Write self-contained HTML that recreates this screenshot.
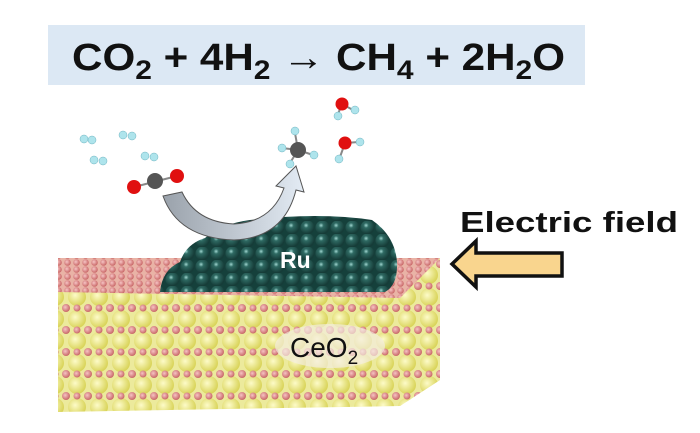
<!DOCTYPE html>
<html><head><meta charset="utf-8"><style>
html,body{margin:0;padding:0;background:#fff;width:700px;height:433px;overflow:hidden}
</style></head><body>
<svg width="700" height="433" xmlns="http://www.w3.org/2000/svg" font-family="Liberation Sans, sans-serif">
<defs>
<radialGradient id="ce" cx="0.4" cy="0.4" r="0.6"><stop offset="0" stop-color="#fdfbc8"/><stop offset="1" stop-color="#d9d45a"/></radialGradient>
<radialGradient id="ox" cx="0.4" cy="0.4" r="0.6"><stop offset="0" stop-color="#f6c4c4"/><stop offset="1" stop-color="#c96868"/></radialGradient>
<radialGradient id="ru" cx="0.4" cy="0.35" r="0.6"><stop offset="0" stop-color="#9fd6d0"/><stop offset="0.3" stop-color="#2f6a63"/><stop offset="1" stop-color="#163c38"/></radialGradient>
<pattern id="front" width="22" height="22" patternUnits="userSpaceOnUse">
<rect width="22" height="22" fill="#ecea9c"/>
<circle cx="11" cy="11" r="9" fill="url(#ce)"/>
<circle cx="0" cy="0" r="4" fill="url(#ox)"/><circle cx="22" cy="0" r="4" fill="url(#ox)"/>
<circle cx="0" cy="22" r="4" fill="url(#ox)"/><circle cx="22" cy="22" r="4" fill="url(#ox)"/>
<circle cx="11" cy="0" r="3.5" fill="url(#ox)"/><circle cx="11" cy="22" r="3.5" fill="url(#ox)"/>
</pattern>
<pattern id="top" width="9" height="7" patternUnits="userSpaceOnUse">
<rect width="9" height="7" fill="#e9b3a6"/>
<circle cx="4.5" cy="3.5" r="3.3" fill="url(#ox)"/>
</pattern>
<pattern id="rus" width="15" height="13" patternUnits="userSpaceOnUse">
<rect width="15" height="13" fill="#15403b"/>
<circle cx="7.5" cy="6.5" r="7" fill="url(#ru)"/>
</pattern>
<linearGradient id="arr" x1="0" y1="0" x2="1" y2="0"><stop offset="0" stop-color="#9aa2ab"/><stop offset="1" stop-color="#e3ebf4"/></linearGradient>
</defs>
<rect x="48" y="25" width="537" height="60" fill="#dce8f4"/>
<text x="72" y="70" font-size="38" font-weight="bold" fill="#111" textLength="493" lengthAdjust="spacingAndGlyphs">CO<tspan font-size="27" dy="9">2</tspan><tspan dy="-9"> + 4H</tspan><tspan font-size="27" dy="9">2</tspan><tspan dy="-9" font-weight="normal"> → </tspan><tspan>CH</tspan><tspan font-size="27" dy="9">4</tspan><tspan dy="-9"> + 2H</tspan><tspan font-size="27" dy="9">2</tspan><tspan dy="-9">O</tspan></text>
<polygon points="58,258 440,258 440,380 400,406 58,412" fill="url(#front)"/>
<polygon points="400,294 440,262 440,380 400,406" fill="url(#front)" opacity="0.85"/>
<polygon points="58,258 440,258 400,298 58,292" fill="url(#top)"/>
<ellipse cx="330" cy="346" rx="55" ry="22" fill="#f4ece0" opacity="0.7"/>
<text x="290" y="357" font-size="28" fill="#111">CeO<tspan font-size="19" dy="7">2</tspan></text>
<path d="M160,292 Q162,270 180,262 Q186,244 205,238 Q220,224 250,220 Q320,212 372,220 Q395,236 397,262 Q398,285 385,292 Z" fill="url(#rus)"/>
<text x="280" y="268" font-size="23" font-weight="bold" fill="#fff">Ru</text>
<path d="M163,196 L182,192 Q196,222 234,224 Q272,222 284,188 L276,186 L296,166 L304,192 L296,190 Q284,238 234,240 Q178,238 163,196 Z" fill="url(#arr)" stroke="#555" stroke-width="1"/>
<g stroke="#888" stroke-width="2"><line x1="134" y1="187" x2="177" y2="176"/><line x1="298" y1="150" x2="282" y2="148"/><line x1="298" y1="150" x2="295" y2="133"/><line x1="298" y1="150" x2="290" y2="163"/><line x1="298" y1="150" x2="313" y2="155"/><line x1="342" y1="104" x2="353" y2="110"/><line x1="342" y1="104" x2="338" y2="114"/><line x1="345" y1="143" x2="359" y2="142"/><line x1="345" y1="143" x2="340" y2="157"/></g>
<g fill="#aee4ec" stroke="#6fb4c0" stroke-width="0.5">
<circle cx="84" cy="139" r="4"/><circle cx="92" cy="140" r="4"/>
<circle cx="123" cy="135" r="4"/><circle cx="132" cy="136" r="4"/>
<circle cx="94" cy="160" r="4"/><circle cx="103" cy="161" r="4"/>
<circle cx="145" cy="156" r="4"/><circle cx="154" cy="157" r="4"/>
<circle cx="282" cy="148" r="4"/><circle cx="295" cy="131" r="4"/><circle cx="290" cy="164" r="4"/><circle cx="314" cy="155" r="4"/>
<circle cx="338" cy="116" r="4"/><circle cx="355" cy="110" r="4"/>
<circle cx="360" cy="142" r="4"/><circle cx="339" cy="159" r="4"/>
</g>
<circle cx="134" cy="187" r="7" fill="#e01010"/><circle cx="155" cy="181" r="8" fill="#555"/><circle cx="177" cy="176" r="7" fill="#e01010"/>
<circle cx="298" cy="150" r="8" fill="#555"/>
<circle cx="342" cy="104" r="6.5" fill="#e01010"/><circle cx="345" cy="143" r="6.5" fill="#e01010"/>
<text x="460" y="232" font-size="29" font-weight="bold" fill="#111" textLength="218" lengthAdjust="spacingAndGlyphs">Electric field</text>
<polygon points="452,264 476,241 476,253 562,253 562,276 476,276 476,287" fill="#f9d58e" stroke="#111" stroke-width="3.5" stroke-linejoin="miter"/>
</svg>
</body></html>
